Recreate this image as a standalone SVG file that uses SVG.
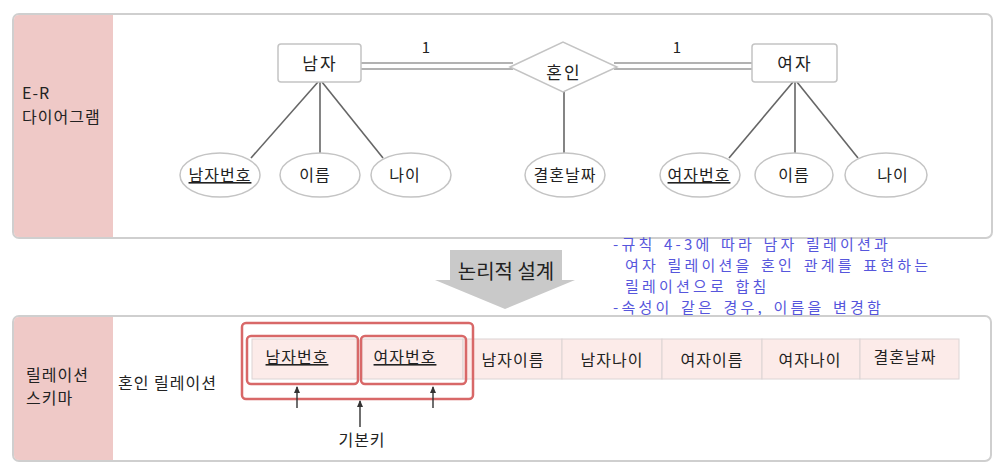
<svg xmlns="http://www.w3.org/2000/svg" width="1004" height="469" viewBox="0 0 1004 469">
<style>
text{font-family:"Noto Sans CJK KR","Noto Sans",sans-serif;fill:#222}
.panel{fill:#fff;stroke:#cfcfcf;stroke-width:2}
.side{fill:#efc9c7}
.ent{fill:#fff;stroke:#c4c4c4;stroke-width:1.5}
.att{fill:#fff;stroke:#c4c4c4;stroke-width:1.5}
.ln{stroke:#666;stroke-width:1.6;fill:none}
.dl{stroke:#666;stroke-width:1.2;fill:none}
.t15{font-size:15px}
.t16{font-size:16px;letter-spacing:1px}
.t17{font-size:17px;letter-spacing:2px}
.side-t{font-size:16px;letter-spacing:1px}
.blue{fill:#5656dc;font-size:15px;letter-spacing:3.2px;word-spacing:2px}
.cell{fill:#fcebe9;stroke:#dcd4d4;stroke-width:1}
.red{fill:none;stroke:#d86868;stroke-width:2.5}
.arr{stroke:#333;stroke-width:1.4;fill:none;marker-end:url(#ah)}
</style>
<defs>
<marker id="ah" markerWidth="8" markerHeight="8" refX="6" refY="4" orient="auto" markerUnits="userSpaceOnUse">
<path d="M0,1 L7,4 L0,7 Z" fill="#333"/>
</marker>
</defs>
<g id="panel-er">
<rect class="panel" x="13" y="14" width="979" height="224" rx="6"/>
<path class="side" d="M19,15 H113 V237 H19 Q14,237 14,232 V20 Q14,15 19,15 Z"/>
<text class="side-t" x="22" y="99">E-R</text>
<text class="side-t" x="22" y="123">다이어그램</text>
</g>
<g id="connectors">
<line class="dl" x1="361" y1="63" x2="513" y2="63"/>
<line class="dl" x1="361" y1="69" x2="513" y2="69"/>
<line class="dl" x1="614" y1="63" x2="752" y2="63"/>
<line class="dl" x1="614" y1="69" x2="752" y2="69"/>
<text class="t15" x="426" y="53" text-anchor="middle">1</text>
<text class="t15" x="677" y="53" text-anchor="middle">1</text>
<line class="ln" x1="318" y1="82" x2="251" y2="158"/>
<line class="ln" x1="320" y1="82" x2="320" y2="153"/>
<line class="ln" x1="322" y1="82" x2="383" y2="158"/>
<line class="ln" x1="564" y1="92" x2="564" y2="153"/>
<line class="ln" x1="793" y1="82" x2="729" y2="158"/>
<line class="ln" x1="795" y1="82" x2="795" y2="153"/>
<line class="ln" x1="797" y1="82" x2="858" y2="158"/>
</g>
<g id="node-namja">
<rect class="ent" x="278" y="44" width="83" height="38" rx="3"/>
<text class="t17" x="320" y="70" text-anchor="middle">남자</text>
</g>
<g id="node-honin">
<polygon class="ent" points="510,67 563,42 617,67 563,92"/>
<text class="t17" x="564" y="79" text-anchor="middle">혼인</text>
</g>
<g id="node-yeoja">
<rect class="ent" x="752" y="44" width="85" height="38" rx="3"/>
<text class="t17" x="795" y="70" text-anchor="middle">여자</text>
</g>
<g id="attr-namjabeonho">
<ellipse class="att" cx="220" cy="175" rx="40" ry="22"/>
<text class="t16" x="220" y="181" text-anchor="middle" text-decoration="underline">남자번호</text>
</g>
<g id="attr-ireum1">
<ellipse class="att" cx="320" cy="175" rx="40" ry="22"/>
<text class="t16" x="315" y="181" text-anchor="middle">이름</text>
</g>
<g id="attr-nai1">
<ellipse class="att" cx="411" cy="175" rx="40" ry="22"/>
<text class="t16" x="405" y="181" text-anchor="middle">나이</text>
</g>
<g id="attr-gyeolhon">
<ellipse class="att" cx="565" cy="175" rx="40" ry="22"/>
<text class="t16" x="565" y="181" text-anchor="middle">결혼날짜</text>
</g>
<g id="attr-yeojabeonho">
<ellipse class="att" cx="700" cy="175" rx="40" ry="22"/>
<text class="t16" x="699" y="181" text-anchor="middle" text-decoration="underline">여자번호</text>
</g>
<g id="attr-ireum2">
<ellipse class="att" cx="794" cy="175" rx="39" ry="22"/>
<text class="t16" x="794" y="181" text-anchor="middle">이름</text>
</g>
<g id="attr-nai2">
<ellipse class="att" cx="886" cy="175" rx="41" ry="22"/>
<text class="t16" x="893" y="181" text-anchor="middle">나이</text>
</g>
<g id="logic-arrow">
<polygon points="450,250 562,250 562,280 575,280 505,309 435,280 450,280" fill="#c9c9c9"/>
<text x="506" y="279" text-anchor="middle" font-size="20">논리적 설계</text>
</g>
<g id="note">
<text class="blue" x="613" y="250">-규칙 4-3에 따라 남자 릴레이션과</text>
<text class="blue" x="625" y="271">여자 릴레이션을 혼인 관계를 표현하는</text>
<text class="blue" x="625" y="292">릴레이션으로 합침</text>
<text class="blue" x="613" y="313">-속성이 같은 경우, 이름을 변경함</text>
</g>
<g id="panel-schema">
<rect class="panel" x="13" y="316" width="978" height="145" rx="6"/>
<path class="side" d="M19,317 H113 V460 H19 Q14,460 14,455 V322 Q14,317 19,317 Z"/>
<text class="side-t" x="26" y="381">릴레이션</text>
<text class="side-t" x="26" y="404">스키마</text>
<text class="t16" x="118" y="389" letter-spacing="1.5">혼인 릴레이션</text>
</g>
<g id="table">
<rect class="cell" x="252" y="339" width="105" height="40"/>
<rect class="cell" x="362" y="339" width="101" height="40"/>
<rect class="cell" x="463" y="339" width="99" height="40"/>
<rect class="cell" x="562" y="339" width="100" height="40"/>
<rect class="cell" x="662" y="339" width="100" height="40"/>
<rect class="cell" x="762" y="339" width="98" height="40"/>
<rect class="cell" x="860" y="339" width="99" height="40"/>
<text class="t16" x="297" y="363" text-anchor="middle" text-decoration="underline">남자번호</text>
<text class="t16" x="405" y="363" text-anchor="middle" text-decoration="underline">여자번호</text>
<text class="t16" x="513" y="366" text-anchor="middle">남자이름</text>
<text class="t16" x="612" y="366" text-anchor="middle">남자나이</text>
<text class="t16" x="712" y="366" text-anchor="middle">여자이름</text>
<text class="t16" x="810" y="366" text-anchor="middle">여자나이</text>
<text class="t16" x="905" y="363" text-anchor="middle">결혼날짜</text>
</g>
<g id="key-highlight">
<rect class="red" x="242" y="323" width="231" height="76" rx="4"/>
<rect class="red" x="247" y="336" width="111" height="48" rx="4"/>
<rect class="red" x="361" y="336" width="105" height="48" rx="4"/>
</g>
<g id="key-arrows">
<line class="arr" x1="297" y1="408" x2="297" y2="387"/>
<line class="arr" x1="360" y1="427" x2="360" y2="401"/>
<line class="arr" x1="433" y1="408" x2="433" y2="387"/>
<text class="t16" x="362" y="446" text-anchor="middle">기본키</text>
</g>
</svg>
